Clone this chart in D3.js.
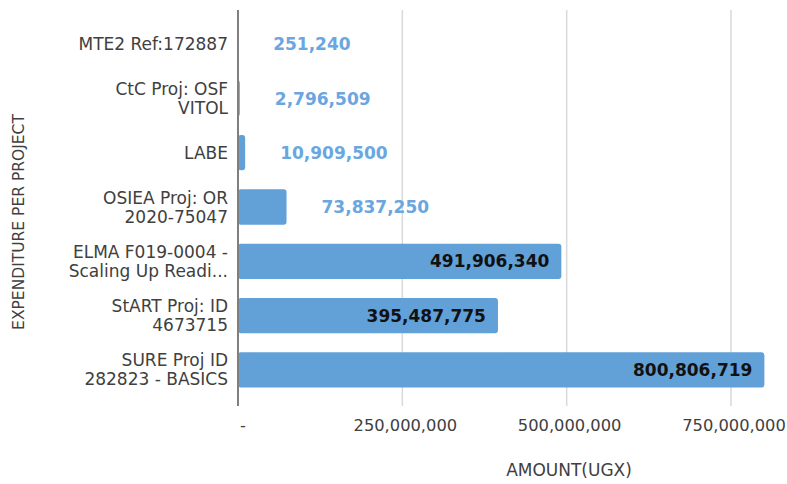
<!DOCTYPE html>
<html><head><meta charset="utf-8">
<script src="https://cdn.jsdelivr.net/npm/d3@7"></script>
<style>body{margin:0;background:#fff;} svg{display:block;font-family:"DejaVu Sans",sans-serif;}</style>
</head><body>
<svg id="c" width="787" height="484"></svg>
<script>
const categories = [
  ["MTE2 Ref:172887"],
  ["CtC Proj: OSF", "VITOL"],
  ["LABE"],
  ["OSIEA Proj: OR", "2020-75047"],
  ["ELMA F019-0004 -", "Scaling Up Readi..."],
  ["StART Proj: ID", "4673715"],
  ["SURE Proj ID", "282823 - BASICS"]
];
const values = [251240, 2796509, 10909500, 73837250, 491906340, 395487775, 800806719];
const tickValues = [0, 250000000, 500000000, 750000000];
const tickLabels = ["-", "250,000,000", "500,000,000", "750,000,000"];
const xTitle = "AMOUNT(UGX)";
const yTitle = "EXPENDITURE PER PROJECT";

const svg = d3.select("#c");
const x = d3.scaleLinear().domain([0, 750000000]).range([238, 731]);
const y = d3.scaleBand().domain(d3.range(categories.length)).range([17, 397])
  .paddingInner(0.35).paddingOuter(0.175);
const fmt = d3.format(",");

// gridlines
svg.append("g").selectAll("line").data(tickValues.slice(1)).join("line")
  .attr("x1", d => x(d)).attr("x2", d => x(d)).attr("y1", 10).attr("y2", 406)
  .attr("stroke", "#d9d9d9").attr("stroke-width", 1.5);

// bars
svg.append("g").selectAll("rect").data(values).join("rect")
  .attr("x", x(0)).attr("y", (d, i) => y(i))
  .attr("width", d => Math.max(0, x(d) - x(0))).attr("height", y.bandwidth())
  .attr("rx", 3).attr("fill", "#62a0d8");

// y axis line
svg.append("line").attr("x1", 238).attr("x2", 238).attr("y1", 10).attr("y2", 406)
  .attr("stroke", "#7f7f7f").attr("stroke-width", 2);

// category labels
const cl = svg.append("g").selectAll("text").data(categories).join("text")
  .attr("text-anchor", "end").attr("font-size", 17).attr("fill", "#404040");
cl.each(function(lines, i) {
  const t = d3.select(this);
  const cy = y(i) + y.bandwidth() / 2;
  const lh = 19;
  lines.forEach((s, k) => {
    t.append("tspan").attr("x", 228)
      .attr("y", cy + (k - (lines.length - 1) / 2) * lh)
      .attr("dy", "0.36em").text(s);
  });
});

// value labels
const inside = d => x(d) - x(0) > 150;
svg.append("g").selectAll("text").data(values).join("text")
  .attr("x", d => inside(d) ? x(d) - 12 : x(d) + 35)
  .attr("y", (d, i) => y(i) + y.bandwidth() / 2).attr("dy", "0.36em")
  .attr("text-anchor", d => inside(d) ? "end" : "start")
  .attr("font-size", 17).attr("font-weight", "bold")
  .attr("fill", d => inside(d) ? "#111" : "#6aa6e0")
  .text(d => fmt(d));

// x tick labels
svg.append("g").selectAll("text").data(tickValues).join("text")
  .attr("x", (d, i) => i === 0 ? x(d) + 5 : x(d) + 3)
  .attr("y", 425).attr("dy", "0.36em").attr("text-anchor", "middle")
  .attr("font-size", 16.3).attr("fill", "#404040")
  .text((d, i) => tickLabels[i]);

// axis titles
svg.append("text").attr("x", 569).attr("y", 470).attr("dy", "0.36em").attr("text-anchor", "middle")
  .attr("font-size", 17).attr("fill", "#404040").text(xTitle);
svg.append("text").attr("transform", "translate(18,222) rotate(-90)").attr("dy", "0.36em")
  .attr("text-anchor", "middle").attr("font-size", 15.5).attr("fill", "#404040").text(yTitle);
</script>
</body></html>
